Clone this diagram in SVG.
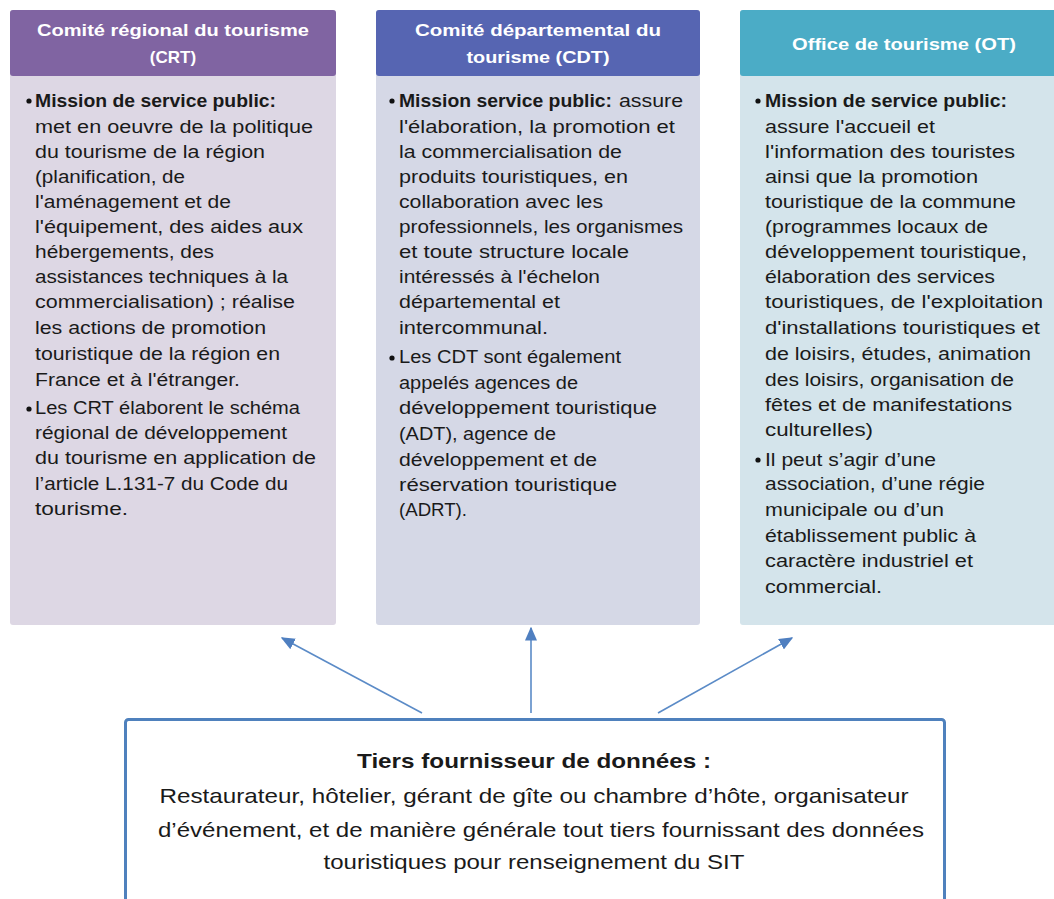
<svg xmlns="http://www.w3.org/2000/svg" width="1054" height="899" viewBox="0 0 1054 899">
<style>
.hd{font-family:"Liberation Sans",Arial,sans-serif;font-size:17px;font-weight:bold;fill:#ffffff;}
.tx{font-family:"Liberation Sans",Arial,sans-serif;font-size:17.5px;fill:#1a1a1a;}
.b{font-weight:bold;}
.bt{font-family:"Liberation Sans",Arial,sans-serif;font-size:21px;fill:#1a1a1a;}
.arr{stroke:#5B8BC7;stroke-width:1.6;fill:none;}
</style>
<defs>
<marker id="ah" viewBox="0 0 10 10" refX="9" refY="5" markerWidth="14" markerHeight="12" markerUnits="userSpaceOnUse" orient="auto" preserveAspectRatio="none">
<path d="M0,0 L10,5 L0,10 z" fill="#4F7FC0"/>
</marker>
</defs>
<rect width="1054" height="899" fill="#ffffff"/>

<g id="crt">
<rect x="10" y="10" width="326" height="615" rx="3" fill="#DDD7E4"/>
<rect x="10" y="10" width="326" height="66" rx="3" fill="#8064A2"/>
<text class="hd" x="173" y="36" text-anchor="middle" textLength="272" lengthAdjust="spacingAndGlyphs">Comité régional du tourisme</text>
<text class="hd" x="173" y="63" text-anchor="middle">(CRT)</text>
<circle cx="29" cy="101" r="2.6" fill="#111"/>
<text class="tx b" x="35" y="107" textLength="241" lengthAdjust="spacingAndGlyphs">Mission de service public:</text>
<text class="tx" x="35" y="133" textLength="278" lengthAdjust="spacingAndGlyphs">met en oeuvre de la politique</text>
<text class="tx" x="35" y="158" textLength="230" lengthAdjust="spacingAndGlyphs">du tourisme de la région</text>
<text class="tx" x="35" y="183" textLength="150" lengthAdjust="spacingAndGlyphs">(planification, de</text>
<text class="tx" x="35" y="208" textLength="196" lengthAdjust="spacingAndGlyphs">l'aménagement et de</text>
<text class="tx" x="35" y="233" textLength="268" lengthAdjust="spacingAndGlyphs">l'équipement, des aides aux</text>
<text class="tx" x="35" y="258" textLength="179" lengthAdjust="spacingAndGlyphs">hébergements,  des</text>
<text class="tx" x="35" y="283" textLength="253" lengthAdjust="spacingAndGlyphs">assistances techniques à la</text>
<text class="tx" x="35" y="308" textLength="260" lengthAdjust="spacingAndGlyphs">commercialisation) ; réalise</text>
<text class="tx" x="35" y="334" textLength="231" lengthAdjust="spacingAndGlyphs">les actions de promotion</text>
<text class="tx" x="35" y="360" textLength="245" lengthAdjust="spacingAndGlyphs">touristique de la région en</text>
<text class="tx" x="35" y="386" textLength="205" lengthAdjust="spacingAndGlyphs">France et à l'étranger.</text>
<circle cx="29" cy="409" r="2.6" fill="#111"/>
<text class="tx" x="35" y="414" textLength="265" lengthAdjust="spacingAndGlyphs">Les CRT élaborent le schéma</text>
<text class="tx" x="35" y="439" textLength="252" lengthAdjust="spacingAndGlyphs">régional de développement</text>
<text class="tx" x="35" y="464" textLength="281" lengthAdjust="spacingAndGlyphs">du tourisme en application de</text>
<text class="tx" x="35" y="490" textLength="253" lengthAdjust="spacingAndGlyphs">l’article L.131-7 du Code du</text>
<text class="tx" x="35" y="515" textLength="93" lengthAdjust="spacingAndGlyphs">tourisme.</text>
</g>

<g id="cdt">
<rect x="376" y="10" width="324" height="615" rx="3" fill="#D5D8E6"/>
<rect x="376" y="10" width="324" height="66" rx="3" fill="#5665B2"/>
<text class="hd" x="538" y="36" text-anchor="middle" textLength="246" lengthAdjust="spacingAndGlyphs">Comité départemental du</text>
<text class="hd" x="538" y="63" text-anchor="middle" textLength="143" lengthAdjust="spacingAndGlyphs">tourisme (CDT)</text>
<circle cx="392" cy="101" r="2.6" fill="#111"/>
<text class="tx b" x="399" y="107" textLength="213" lengthAdjust="spacingAndGlyphs">Mission service public:</text>
<text class="tx" x="619" y="107" textLength="64" lengthAdjust="spacingAndGlyphs">assure</text>
<text class="tx" x="399" y="133" textLength="276" lengthAdjust="spacingAndGlyphs">l'élaboration, la promotion et</text>
<text class="tx" x="399" y="158" textLength="223" lengthAdjust="spacingAndGlyphs">la commercialisation de</text>
<text class="tx" x="399" y="183" textLength="229" lengthAdjust="spacingAndGlyphs">produits touristiques, en</text>
<text class="tx" x="399" y="208" textLength="204" lengthAdjust="spacingAndGlyphs">collaboration avec les</text>
<text class="tx" x="399" y="233" textLength="284" lengthAdjust="spacingAndGlyphs">professionnels, les organismes</text>
<text class="tx" x="399" y="258" textLength="230" lengthAdjust="spacingAndGlyphs">et toute structure locale</text>
<text class="tx" x="399" y="283" textLength="201" lengthAdjust="spacingAndGlyphs">intéressés à l'échelon</text>
<text class="tx" x="399" y="308" textLength="161" lengthAdjust="spacingAndGlyphs">départemental et</text>
<text class="tx" x="399" y="334" textLength="149" lengthAdjust="spacingAndGlyphs">intercommunal.</text>
<circle cx="392" cy="358" r="2.6" fill="#111"/>
<text class="tx" x="399" y="363" textLength="222" lengthAdjust="spacingAndGlyphs">Les CDT sont également</text>
<text class="tx" x="399" y="389" textLength="179" lengthAdjust="spacingAndGlyphs">appelés agences de</text>
<text class="tx" x="399" y="414" textLength="258" lengthAdjust="spacingAndGlyphs">développement touristique</text>
<text class="tx" x="399" y="440" textLength="157" lengthAdjust="spacingAndGlyphs">(ADT),  agence de</text>
<text class="tx" x="399" y="466" textLength="198" lengthAdjust="spacingAndGlyphs">développement et de</text>
<text class="tx" x="399" y="491" textLength="218" lengthAdjust="spacingAndGlyphs">réservation touristique</text>
<text class="tx" x="399" y="516" textLength="68" lengthAdjust="spacingAndGlyphs">(ADRT).</text>
</g>

<g id="ot">
<rect x="740" y="10" width="316" height="615" rx="3" fill="#D4E4EB"/>
<rect x="740" y="10" width="316" height="66" rx="3" fill="#4BACC6"/>
<text class="hd" x="904" y="50" text-anchor="middle" textLength="224" lengthAdjust="spacingAndGlyphs">Office de tourisme (OT)</text>
<circle cx="758" cy="101" r="2.6" fill="#111"/>
<text class="tx b" x="765" y="107" textLength="242" lengthAdjust="spacingAndGlyphs">Mission de service public:</text>
<text class="tx" x="765" y="133" textLength="170" lengthAdjust="spacingAndGlyphs">assure l'accueil et</text>
<text class="tx" x="765" y="158" textLength="250" lengthAdjust="spacingAndGlyphs">l'information des touristes</text>
<text class="tx" x="765" y="183" textLength="213" lengthAdjust="spacingAndGlyphs">ainsi que la promotion</text>
<text class="tx" x="765" y="208" textLength="251" lengthAdjust="spacingAndGlyphs">touristique de la commune</text>
<text class="tx" x="765" y="233" textLength="223" lengthAdjust="spacingAndGlyphs">(programmes locaux de</text>
<text class="tx" x="765" y="258" textLength="262" lengthAdjust="spacingAndGlyphs">développement touristique,</text>
<text class="tx" x="765" y="283" textLength="230" lengthAdjust="spacingAndGlyphs">élaboration des services</text>
<text class="tx" x="765" y="308" textLength="278" lengthAdjust="spacingAndGlyphs">touristiques, de l'exploitation</text>
<text class="tx" x="765" y="334" textLength="275" lengthAdjust="spacingAndGlyphs">d'installations touristiques et</text>
<text class="tx" x="765" y="360" textLength="266" lengthAdjust="spacingAndGlyphs">de loisirs, études, animation</text>
<text class="tx" x="765" y="386" textLength="249" lengthAdjust="spacingAndGlyphs">des loisirs, organisation de</text>
<text class="tx" x="765" y="411" textLength="247" lengthAdjust="spacingAndGlyphs">fêtes et de manifestations</text>
<text class="tx" x="765" y="436" textLength="108" lengthAdjust="spacingAndGlyphs">culturelles)</text>
<circle cx="758" cy="460" r="2.6" fill="#111"/>
<text class="tx" x="765" y="466" textLength="171" lengthAdjust="spacingAndGlyphs">Il peut s’agir d’une</text>
<text class="tx" x="765" y="490" textLength="220" lengthAdjust="spacingAndGlyphs">association, d’une régie</text>
<text class="tx" x="765" y="516" textLength="179" lengthAdjust="spacingAndGlyphs">municipale ou d’un</text>
<text class="tx" x="765" y="542" textLength="211" lengthAdjust="spacingAndGlyphs">établissement public à</text>
<text class="tx" x="765" y="567" textLength="208" lengthAdjust="spacingAndGlyphs">caractère industriel et</text>
<text class="tx" x="765" y="593" textLength="117" lengthAdjust="spacingAndGlyphs">commercial.</text>
</g>

<g id="connectors">
<line class="arr" x1="422" y1="713" x2="282" y2="638" marker-end="url(#ah)"/>
<line class="arr" x1="531" y1="713" x2="531" y2="628" marker-end="url(#ah)"/>
<line class="arr" x1="658" y1="713" x2="792" y2="638" marker-end="url(#ah)"/>
</g>

<g id="tiers">
<rect x="125.5" y="719.5" width="819" height="195" rx="3" fill="#ffffff" stroke="#4F81BD" stroke-width="3"/>
<text class="bt b" x="534" y="768" text-anchor="middle" textLength="354" lengthAdjust="spacingAndGlyphs">Tiers fournisseur de données :</text>
<text class="bt" x="534" y="803" text-anchor="middle" textLength="749" lengthAdjust="spacingAndGlyphs">Restaurateur, hôtelier, gérant de gîte ou chambre d’hôte, organisateur</text>
<text class="bt" x="541" y="837" text-anchor="middle" textLength="766" lengthAdjust="spacingAndGlyphs">d’événement, et de manière générale tout tiers fournissant des données</text>
<text class="bt" x="534" y="869" text-anchor="middle" textLength="421" lengthAdjust="spacingAndGlyphs">touristiques pour renseignement du SIT</text>
</g>
</svg>
